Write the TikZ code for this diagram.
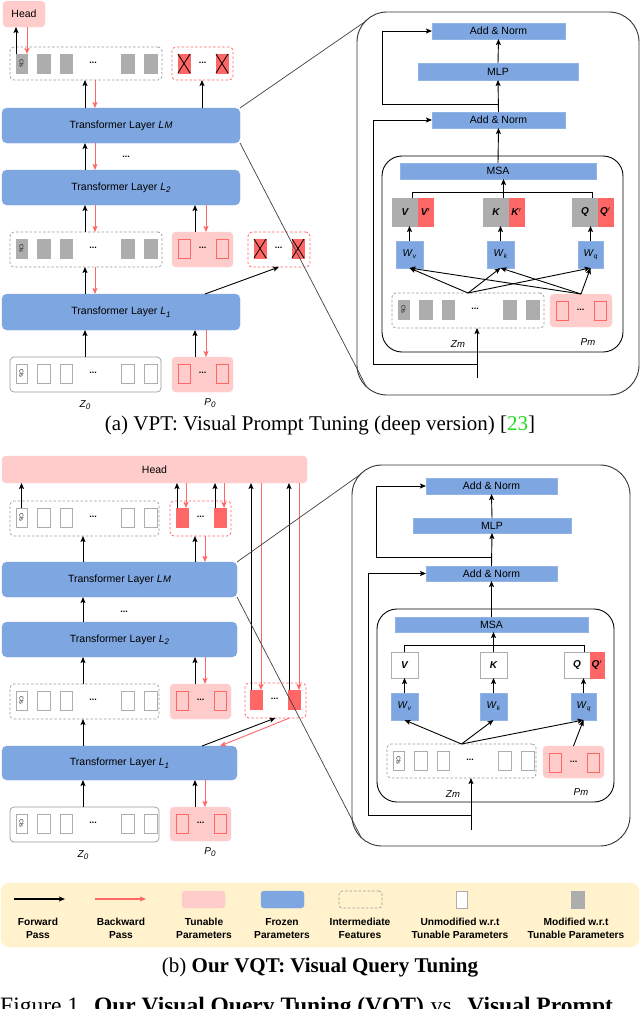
\documentclass[tikz,border=0pt]{standalone}
\usepackage{fontspec}
\setmainfont{Liberation Serif}
\setsansfont{Liberation Sans}
\usetikzlibrary{arrows.meta}
\definecolor{blueL}{HTML}{7EA6E0}
\definecolor{pinkL}{HTML}{FFCCCC}
\definecolor{redT}{HTML}{FF6666}
\definecolor{grayT}{HTML}{ADADAD}
\definecolor{grayD}{HTML}{9A9A9A}
\definecolor{legY}{HTML}{FFF2CC}
\definecolor{capG}{HTML}{22DD22}
\newcommand\mkbx[7]{\node[inner sep=0pt,outer sep=0pt,anchor=north west,minimum width={(#4)-(#2)},minimum height={(#5)-(#3)},#6] (#1) at (#2,#3) {#7};}
\newcommand\rowtk[4]{%
 \mkbx{#1c}{#2+6}{#3+7}{#2+17}{#3+26}{#4}{}
 \node[clstxt] (#1ct) at (#1c) {Cls};
 \mkbx{#1a}{#2+27}{#3+7}{#2+40}{#3+26}{#4}{}
 \mkbx{#1b}{#2+50}{#3+7}{#2+62}{#3+26}{#4}{}
 \node[dotstxt] (#1d) at (#2+83,#3+16) {...};
 \mkbx{#1e}{#2+111}{#3+7}{#2+124}{#3+26}{#4}{}
 \mkbx{#1f}{#2+134}{#3+7}{#2+147}{#3+26}{#4}{}
}
\newcommand\promtk[4]{%
 \mkbx{#1a}{#2+6}{#3+7}{#2+18}{#3+26}{#4}{}
 \node[dotstxt] (#1d) at (#2+30.5,#3+16) {...};
 \mkbx{#1b}{#2+44}{#3+7}{#2+56}{#3+26}{#4}{}
}
\newcommand\xcross[1]{\draw[line width=0.8pt] (#1a.north west) -- (#1a.south east) (#1a.north east) -- (#1a.south west) (#1b.north west) -- (#1b.south east) (#1b.north east) -- (#1b.south west);}
\newcommand\tLM{\textit{L\kern0.3pt{\fontsize{9.5}{10}\selectfont M}}}
\newcommand\tLtwo{\textit{L}\raisebox{-2.5pt}{\fontsize{8}{9}\selectfont\textit{2}}}
\newcommand\tLone{\textit{L}\raisebox{-2.5pt}{\fontsize{8}{9}\selectfont\textit{1}}}
\newcommand\tZo{\textit{Z}\raisebox{-2.5pt}{\fontsize{8}{9}\selectfont\textit{0}}}
\newcommand\tPo{\textit{P}\raisebox{-2.5pt}{\fontsize{8}{9}\selectfont\textit{0}}}
\newcommand\tZm{\textit{Z{\fontsize{9.5}{10}\selectfont m}}}
\newcommand\tPm{\textit{P{\fontsize{9.5}{10}\selectfont m}}}
\newcommand\tW[1]{\textit{W}\raisebox{-2pt}{\fontsize{6.5}{7}\selectfont\textit{#1}}}
\begin{document}
\begin{tikzpicture}[x=1pt,y=-1pt,
 layer/.style={fill=blueL,draw=blueL,rounded corners=5pt,font=\sffamily\fontsize{10.5}{12}\selectfont},
 flatbox/.style={fill=blueL,draw=blueL!85!white,font=\sffamily\fontsize{10.5}{12}\selectfont},
 pinkbox/.style={fill=pinkL,draw=pinkL,rounded corners=4pt},
 headbox/.style={pinkbox,font=\sffamily\fontsize{10.5}{12}\selectfont},
 grayrow/.style={draw=grayD,dash pattern=on 2.5pt off 2pt,rounded corners=4pt,line width=0.7pt},
 redrow/.style={draw=redT,dash pattern=on 2.5pt off 2pt,rounded corners=4pt,line width=0.8pt},
 solidrow/.style={draw=grayD,rounded corners=4pt,line width=0.7pt},
 tokG/.style={fill=grayT,draw=grayT},
 tokE/.style={fill=white,draw=grayT,line width=0.8pt},
 tokP/.style={draw=redT,line width=0.9pt},
 tokR/.style={fill=redT,draw=redT},
 clstxt/.style={rotate=-90,font=\sffamily\fontsize{5.5}{6}\selectfont,inner sep=0pt},
 dotstxt/.style={font=\sffamily\bfseries\fontsize{9}{9}\selectfont,inner sep=0pt},
 fwd/.style={draw=black,line width=0.9pt,-{Stealth[length=6pt,width=5pt,inset=1.2pt]}},
 bwd/.style={fwd,draw=redT},
 busln/.style={draw=black,line width=0.9pt},
 zoomln/.style={draw=black!75,line width=0.7pt},
 bigbox/.style={draw=black!80,line width=0.9pt,rounded corners=30pt},
 innerbox/.style={draw=black,line width=0.9pt,rounded corners=20pt},
 lbl/.style={font=\sffamily\fontsize{10}{12}\selectfont,inner sep=0pt},
 wbox/.style={fill=blueL,draw=blueL!85!white,font=\sffamily\fontsize{10}{12}\selectfont},
 vkq/.style={fill=grayT,draw=grayT,font=\sffamily\bfseries\itshape\fontsize{10}{12}\selectfont},
 vkqr/.style={fill=redT,draw=redT,font=\sffamily\bfseries\itshape\fontsize{10}{12}\selectfont},
 vkqw/.style={fill=white,draw=grayT,line width=0.8pt,font=\sffamily\bfseries\itshape\fontsize{10}{12}\selectfont},
 legbox/.style={fill=legY,draw=legY,rounded corners=8pt},
 legtxt/.style={font=\sffamily\bfseries\fontsize{10.2}{12.8}\selectfont,align=center,inner sep=0pt},
 captxt/.style={font=\fontsize{21}{24}\selectfont,inner sep=0pt}]
\useasboundingbox (0,0) rectangle (640,1009);
\fill[white] (0,0) rectangle (640,1009);
% ================= (a) =================
\mkbx{headA}{3}{1}{45}{27}{headbox}{Head}
\mkbx{rowA3}{10}{47}{162}{80}{grayrow}{}
\rowtk{tA3}{10}{47}{tokG}
\mkbx{xA3}{172}{47}{233}{80}{redrow}{}
\promtk{xtA3}{172}{47}{tokR}
\xcross{xtA3}
\mkbx{LMA}{2}{108}{240}{143}{layer}{Transformer Layer \tLM}
\node[dotstxt] (dA) at (126,157) {...};
\mkbx{L2A}{2}{170}{240}{205}{layer}{Transformer Layer \tLtwo}
\mkbx{rowA2}{10}{232}{162}{267}{grayrow}{}
\rowtk{tA2}{10}{232}{tokG}
\mkbx{P1A}{172}{232}{233}{267}{pinkbox}{}
\promtk{pA1}{172}{232}{tokP}
\mkbx{xA2}{248}{232}{310}{267}{redrow}{}
\promtk{xtA2}{248}{232}{tokR}
\xcross{xtA2}
\mkbx{L1A}{2}{294}{240}{330}{layer}{Transformer Layer \tLone}
\mkbx{rowA0}{10}{357}{161}{392}{solidrow}{}
\rowtk{tA0}{10}{357}{tokE}
\mkbx{P0A}{172}{357}{233}{392}{pinkbox}{}
\promtk{pA0}{172}{357}{tokP}
\node[lbl] (z0A) at (85,405) {\tZo};
\node[lbl] (p0A) at (210,403) {\tPo};
\coordinate (ca1) at (85,0); \coordinate (ca2) at (95,0);
\coordinate (ca3) at (195,0); \coordinate (ca4) at (206,0);
\coordinate (ca5) at (202,0); \coordinate (ca6) at (205,0);
\draw[fwd] (tA3c.north west) -- (tA3c.north west |- headA.south);
\draw[bwd] (headA.south -| tA3c.north east) -- (tA3c.north east);
\draw[fwd] (LMA.north -| ca1) -- (rowA3.south -| ca1);
\draw[bwd] (rowA3.south -| ca2) -- (LMA.north -| ca2);
\draw[fwd] (LMA.north -| ca5) -- (xA3.south -| ca5);
\draw[fwd] (L2A.north -| ca1) -- (LMA.south -| ca1);
\draw[bwd] (LMA.south -| ca2) -- (L2A.north -| ca2);
\draw[fwd] (rowA2.north -| ca1) -- (L2A.south -| ca1);
\draw[bwd] (L2A.south -| ca2) -- (rowA2.north -| ca2);
\draw[fwd] (P1A.north -| ca3) -- (L2A.south -| ca3);
\draw[bwd] (L2A.south -| ca4) -- (P1A.north -| ca4);
\draw[fwd] (L1A.north -| ca1) -- (rowA2.south -| ca1);
\draw[bwd] (rowA2.south -| ca2) -- (L1A.north -| ca2);
\draw[fwd] (L1A.north -| ca6) -- (xA2.south);
\draw[fwd] (rowA0.north -| ca1) -- (L1A.south -| ca1);
\draw[fwd] (P0A.north -| ca3) -- (L1A.south -| ca3);
\draw[bwd] (L1A.south -| ca4) -- (P0A.north -| ca4);
% zoom box (a)
\mkbx{bigA}{357}{12}{639}{395}{bigbox}{}
\draw[zoomln] (LMA.north east) -- ([shift={(9,9)}]bigA.north west);
\draw[zoomln] (LMA.south east) -- ([shift={(9,-9)}]bigA.south west);
\mkbx{AN1A}{432}{23}{565}{39}{flatbox}{Add \& Norm}
\mkbx{MLPA}{418}{63}{578}{80}{flatbox}{MLP}
\mkbx{AN2A}{432}{112}{565}{128}{flatbox}{Add \& Norm}
\mkbx{inA}{382}{156}{623}{352}{innerbox}{}
\mkbx{MSAA}{400}{163}{596}{179}{flatbox}{MSA}
\mkbx{VA}{392}{198}{433}{226}{}{}
\mkbx{VAg}{392}{198}{418}{226}{vkq}{V}
\mkbx{VAr}{418}{198}{433}{226}{vkqr}{V$'$}
\mkbx{KA}{483}{198}{524}{226}{}{}
\mkbx{KAg}{483}{198}{509}{226}{vkq}{K}
\mkbx{KAr}{509}{198}{524}{226}{vkqr}{K$'$}
\mkbx{QA}{572}{198}{613}{226}{}{}
\mkbx{QAg}{572}{198}{598}{226}{vkq}{Q}
\mkbx{QAr}{598}{198}{613}{226}{vkqr}{Q$'$}
\mkbx{WvA}{396}{241}{423}{268}{wbox}{\tW{v}}
\mkbx{WkA}{487}{241}{514}{268}{wbox}{\tW{k}}
\mkbx{WqA}{578}{241}{603}{268}{wbox}{\tW{q}}
\mkbx{ZmA}{392}{293}{544}{328}{grayrow}{}
\rowtk{tAm}{392}{293}{tokG}
\mkbx{PmA}{550}{294}{612}{327}{pinkbox}{}
\promtk{pAm}{550}{294}{tokP}
\node[lbl] (zmA) at (458,344) {\tZm};
\node[lbl] (pmA) at (588,342) {\tPm};
\draw[fwd] (MLPA.north) -- (AN1A.south);
\draw[fwd] (AN2A.north) -- (MLPA.south);
\draw[fwd] (MSAA.north) -- (AN2A.south);
\coordinate (rA1) at (498.5,104); \coordinate (kA1) at (382,104);
\draw[fwd] (rA1) -- (kA1) |- (AN1A.west);
\coordinate (inpA) at (477,378); \coordinate (rA2) at (477,364); \coordinate (kA2) at (373,364);
\draw[fwd] (inpA) -- (inpA |- ZmA.south);
\draw[fwd] (rA2) -- (kA2) |- (AN2A.west);
\coordinate (busA) at (0,192);
\draw[busln] (VA.north) -- (VA.north |- busA) -- (QA.north |- busA) -- (QA.north);
\draw[fwd] (KA.north) -- (KA.north |- MSAA.south);
\draw[fwd] (WvA.north) -- (WvA.north |- VA.south);
\draw[fwd] (WkA.north) -- (WkA.north |- KA.south);
\draw[fwd] (WqA.north) -- (WqA.north |- QA.south);
\draw[fwd] (ZmA.north) -- (WvA.south);
\draw[fwd] (ZmA.north) -- (WkA.south);
\draw[fwd] (ZmA.north) -- (WqA.south);
\draw[fwd] (PmA.north) -- (WvA.south);
\draw[fwd] (PmA.north) -- (WkA.south);
\draw[fwd] (PmA.north) -- (WqA.south);
\node[captxt] (capA) at (320,425) {(a) VPT: Visual Prompt Tuning (deep version) [\textcolor{capG}{23}]};
% ================= (b) =================
\mkbx{headB}{2}{456}{307}{483}{headbox}{Head}
\mkbx{rowB3}{10}{501}{159}{536}{grayrow}{}
\rowtk{tB3}{10}{501}{tokE}
\mkbx{xB3}{170}{501}{231}{536}{redrow}{}
\promtk{xtB3}{170}{501}{tokR}
\mkbx{LMB}{2}{562}{237}{597}{layer}{Transformer Layer \tLM}
\node[dotstxt] (dB) at (124,612) {...};
\mkbx{L2B}{2}{622}{237}{657}{layer}{Transformer Layer \tLtwo}
\mkbx{rowB2}{10}{684}{159}{719}{grayrow}{}
\rowtk{tB2}{10}{684}{tokE}
\mkbx{P1B}{170}{684}{231}{719}{pinkbox}{}
\promtk{pB1}{170}{684}{tokP}
\mkbx{xB2}{245}{683}{306}{718}{redrow}{}
\promtk{xtB2}{244}{683}{tokR}
\mkbx{L1B}{2}{746}{237}{780}{layer}{Transformer Layer \tLone}
\mkbx{rowB0}{10}{807}{159}{842}{solidrow}{}
\rowtk{tB0}{10}{807}{tokE}
\mkbx{P0B}{170}{807}{231}{841}{pinkbox}{}
\promtk{pB0}{170}{807}{tokP}
\node[lbl] (z0B) at (83,855) {\tZo};
\node[lbl] (p0B) at (210,852) {\tPo};
\coordinate (cb1) at (83,0); \coordinate (cb3) at (195,0); \coordinate (cb4) at (205,0);
\coordinate (cb6) at (202,0); \coordinate (cb7) at (220,0);
\draw[fwd] (tB3c.north) -- (tB3c.north |- headB.south);
\draw[fwd] ([xshift=1]xtB3a.north west) -- ([xshift=1]xtB3a.north west |- headB.south);
\draw[bwd] ([xshift=-2]headB.south -| xtB3a.north east) -- ([xshift=-2]xtB3a.north east);
\draw[fwd] ([xshift=1]xtB3b.north west) -- ([xshift=1]xtB3b.north west |- headB.south);
\draw[bwd] ([xshift=-2]headB.south -| xtB3b.north east) -- ([xshift=-2]xtB3b.north east);
\draw[fwd] ([xshift=1]xtB2a.north west) -- ([xshift=1]xtB2a.north west |- headB.south);
\draw[bwd] ([xshift=-1]headB.south -| xtB2a.north east) -- ([xshift=-1]xtB2a.north east);
\draw[fwd] ([xshift=1]xtB2b.north west) -- ([xshift=1]xtB2b.north west |- headB.south);
\draw[bwd] ([xshift=-1]headB.south -| xtB2b.north east) -- ([xshift=-1]xtB2b.north east);
\draw[fwd] (LMB.north -| cb1) -- (rowB3.south -| cb1);
\draw[fwd] (LMB.north -| cb3) -- (xB3.south -| cb3);
\draw[bwd] (xB3.south -| cb4) -- (LMB.north -| cb4);
\draw[fwd] (L2B.north -| cb1) -- (LMB.south -| cb1);
\draw[fwd] (rowB2.north -| cb1) -- (L2B.south -| cb1);
\draw[fwd] (P1B.north -| cb3) -- (L2B.south -| cb3);
\draw[bwd] (L2B.south -| cb4) -- (P1B.north -| cb4);
\draw[fwd] (L1B.north -| cb1) -- (rowB2.south -| cb1);
\draw[fwd] (L1B.north -| cb6) -- (xB2.south);
\draw[bwd] ([xshift=14]xB2.south) -- (L1B.north -| cb7);
\draw[fwd] (rowB0.north -| cb1) -- (L1B.south -| cb1);
\draw[fwd] (P0B.north -| cb3) -- (L1B.south -| cb3);
\draw[bwd] (L1B.south -| cb4) -- (P0B.north -| cb4);
% zoom box (b)
\mkbx{bigB}{352}{465}{630}{846}{bigbox}{}
\draw[zoomln] (LMB.north east) -- ([shift={(9,9)}]bigB.north west);
\draw[zoomln] (LMB.south east) -- ([shift={(9,-9)}]bigB.south west);
\mkbx{AN1B}{426}{478}{557}{494}{flatbox}{Add \& Norm}
\mkbx{MLPB}{413}{518}{571}{533}{flatbox}{MLP}
\mkbx{AN2B}{426}{566}{557}{581}{flatbox}{Add \& Norm}
\mkbx{inB}{377}{609}{614}{802}{innerbox}{}
\mkbx{MSAB}{395}{617}{588}{632}{flatbox}{MSA}
\mkbx{VB}{391}{652}{418}{678}{vkqw}{V}
\mkbx{KB}{480}{652}{507}{678}{vkqw}{K}
\mkbx{QB}{564}{652}{604}{678}{}{}
\mkbx{QBw}{564}{652}{590}{678}{vkqw}{Q}
\mkbx{QBr}{590}{652}{604}{678}{vkqr}{Q$'$}
\mkbx{WvB}{391}{693}{418}{720}{wbox}{\tW{v}}
\mkbx{WkB}{480}{693}{507}{720}{wbox}{\tW{k}}
\mkbx{WqB}{571}{693}{596}{720}{wbox}{\tW{q}}
\mkbx{ZmB}{387}{744}{536}{778}{grayrow}{}
\rowtk{tBm}{387}{744}{tokE}
\mkbx{PmB}{543}{746}{604}{778}{pinkbox}{}
\promtk{pBm}{543}{746}{tokP}
\node[lbl] (zmB) at (453,794) {\tZm};
\node[lbl] (pmB) at (581,792) {\tPm};
\draw[fwd] (MLPB.north) -- (AN1B.south);
\draw[fwd] (AN2B.north) -- (MLPB.south);
\draw[fwd] (MSAB.north) -- (AN2B.south);
\coordinate (rB1) at (491.5,557); \coordinate (kB1) at (376,557);
\draw[fwd] (rB1) -- (kB1) |- (AN1B.west);
\coordinate (inpB) at (471,830); \coordinate (rB2) at (471,815); \coordinate (kB2) at (368,815);
\draw[fwd] (inpB) -- (inpB |- ZmB.south);
\draw[fwd] (rB2) -- (kB2) |- (AN2B.west);
\coordinate (busB) at (0,645);
\draw[busln] (VB.north) -- (VB.north |- busB) -- (QB.north |- busB) -- (QB.north);
\draw[fwd] (KB.north) -- (KB.north |- MSAB.south);
\draw[fwd] (WvB.north) -- (WvB.north |- VB.south);
\draw[fwd] (WkB.north) -- (WkB.north |- KB.south);
\draw[fwd] (WqB.north) -- (WqB.north |- QB.south);
\draw[fwd] (ZmB.north) -- (WvB.south);
\draw[fwd] (ZmB.north) -- (WkB.south);
\draw[fwd] (ZmB.north) -- (WqB.south);
\draw[fwd] (PmB.north) -- (WqB.south);
% ================= legend =================
\mkbx{leg}{1}{883}{639}{947}{legbox}{}
\coordinate (lf1) at (14,899); \coordinate (lf2) at (65,899);
\coordinate (lb1) at (95,899); \coordinate (lb2) at (146,899);
\draw[fwd,line width=1.2pt] (lf1) -- (lf2);
\draw[bwd,line width=1.2pt] (lb1) -- (lb2);
\mkbx{legT}{182}{891}{225}{908}{pinkbox,rounded corners=3pt}{}
\mkbx{legF}{261}{891}{304}{908}{layer,rounded corners=3pt}{}
\mkbx{legI}{339}{891}{382}{908}{grayrow,rounded corners=3pt}{}
\mkbx{legU}{456}{891}{467}{908}{tokE}{}
\mkbx{legM}{571}{891}{584}{908}{tokG}{}
\node[legtxt] (lt1) at (38,928.5) {Forward\\Pass};
\node[legtxt] (lt2) at (121,928.5) {Backward\\Pass};
\node[legtxt] (lt3) at (204,928.5) {Tunable\\Parameters};
\node[legtxt] (lt4) at (282,928.5) {Frozen\\Parameters};
\node[legtxt] (lt5) at (360,928.5) {Intermediate\\Features};
\node[legtxt] (lt6) at (460,928.5) {Unmodified w.r.t\\Tunable Parameters};
\node[legtxt] (lt7) at (576,928.5) {Modified w.r.t\\Tunable Parameters};
\node[captxt] (capB) at (320,968) {(b) \textbf{Our VQT: Visual Query Tuning}};
\node[captxt,font=\fontsize{23.5}{26}\selectfont,anchor=base west] (figcap) at (0,1013) {Figure 1.\hspace{9pt}\textbf{Our Visual Query Tuning (VQT)}\hspace{1pt} vs.\hspace{2pt} \textbf{Visual Prompt}};
\end{tikzpicture}
\end{document}
